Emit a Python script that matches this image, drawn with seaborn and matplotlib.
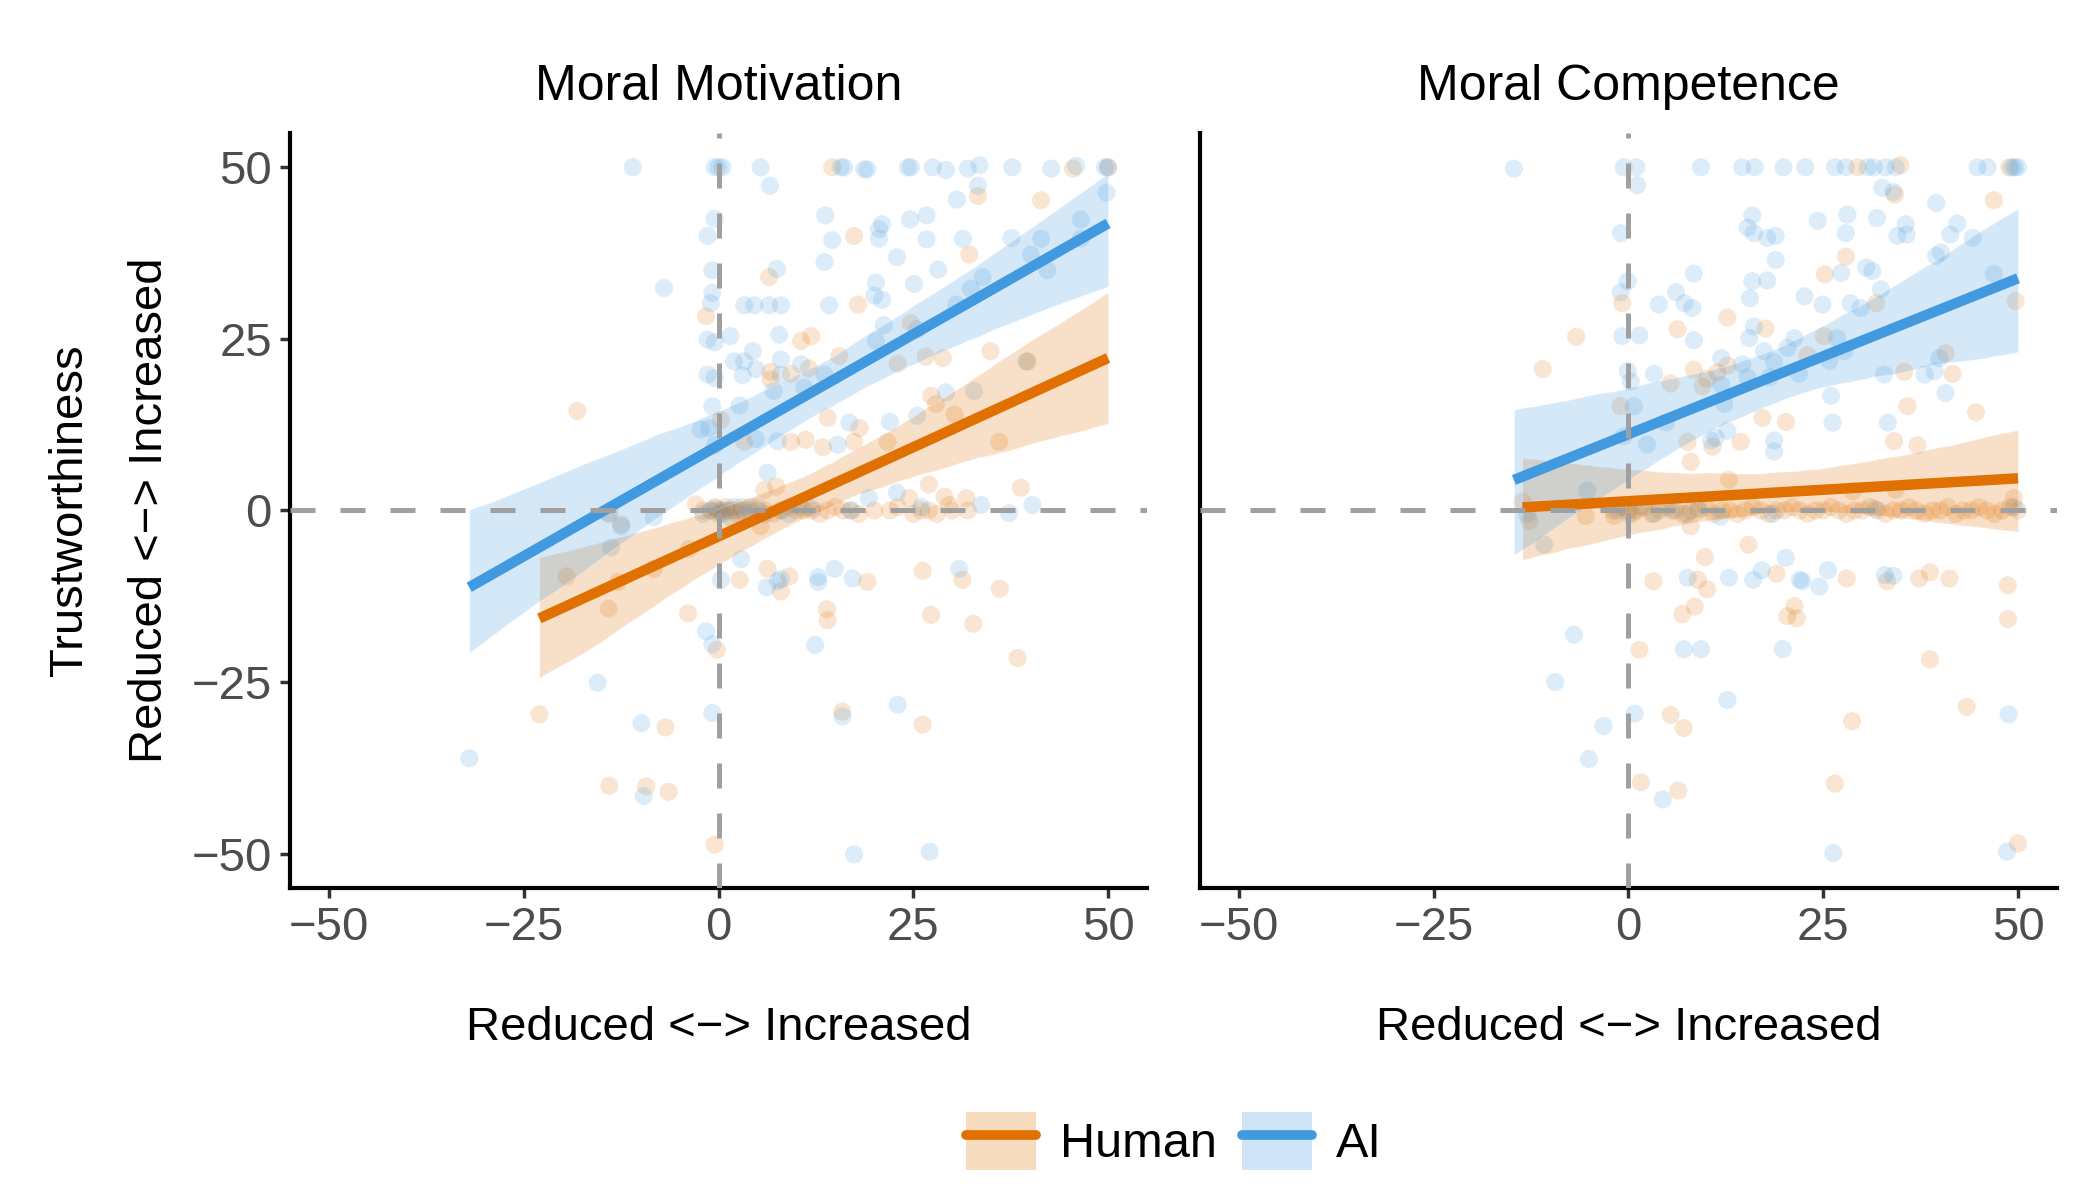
import numpy as np
import pandas as pd
import matplotlib
matplotlib.use("Agg")
import matplotlib.pyplot as plt
from matplotlib.patches import Patch
from matplotlib.lines import Line2D
import seaborn as sns

# ---- data (x = change, y = trustworthiness change) ----
# Moral Motivation panel
mm_human = [
    (-18.1, 14.5), (-1.6, 28.3), (0.3, 13.2), (-2.9, 0.9),
    (14.6, 50), (45.5, 49.8), (50, 50), (33.3, 45.8), (41.4, 45.2), (17.4, 40),
    (32.2, 37.3), (6.5, 34), (17.9, 30), (10.6, 24.7), (11.9, 25.4), (15.5, 22.5),
    (24.7, 27.3), (34.9, 23.2), (6.7, 20.2), (6.7, 19.1), (9.3, 19.9), (11.6, 20.7),
    (23, 21.4), (26.6, 22.4), (28.8, 22.2), (39.7, 21.7), (27.3, 16.7), (27.9, 15.5),
    (30.3, 14), (14, 13.5), (18.1, 12), (21.7, 10), (36, 10), (9.3, 10), (11.2, 10.3),
    (13.4, 9.2), (17.4, 10), (3.3, 10), (27, 3.8), (38.8, 3.3), (31.8, 1.8), (29, 2),
    (29.6, 0.8), (24.5, 1.8), (5.9, 3), (7.4, 3.5),
    (-2, 0), (-1, 0), (-0.5, 0.5), (0, 0), (0, -0.5), (0.5, 0), (1, 0.5), (1.5, 0),
    (2, 0), (2.5, -0.5), (3, 0), (4, 0.5), (5, 0), (6, 0), (7, -0.5), (8, 0), (9, 0.5),
    (10, 0), (11, 0), (12, 0), (13, -0.5), (14, 0), (15, 0.5), (16, 0), (17, 0),
    (18, -0.5), (20, 0), (22, 0), (23, 0.5), (25, -0.5), (26, 0), (27, 0), (28, -0.5),
    (30, 0), (32, 0),
    (5.4, -2.3), (6.3, -8.5), (2.7, -10.1), (9.1, -9.6), (8, -11.8), (19.1, -10.4),
    (26.2, -8.8), (31.3, -10.1), (36.1, -11.4), (13.9, -14.4), (14, -16), (27.3, -15.2),
    (32.7, -16.5), (38.4, -21.5), (-0.2, -20.3), (15.9, -29.3), (26.2, -31.2), (-0.5, -48.7),
    (-19.5, -9.6), (-12.9, -10.4), (-8.3, -8.5), (-3.8, -5.6), (-14.1, -14.3), (-3.9, -15),
    (-23, -29.7), (-6.8, -31.6), (-14, -40.1), (-9.3, -40.2), (-6.4, -41), (-14, -0.5),
    (-12.5, -2),
]
mm_ai = [
    (-11, 50), (-7, 32.4),
    (-0.5, 50), (0, 50), (0.5, 50), (-0.5, 42.5), (-1.4, 40), (-0.8, 35), (-0.8, 31.7),
    (-1, 30.2), (-1.4, 24.9), (-0.5, 24.5), (-1.4, 19.8), (-0.5, 19.3), (-0.8, 15.2),
    (-1.2, 12), (-0.5, 9.5),
    (5.4, 50), (6.6, 47.3), (15.7, 50), (16.1, 50), (18.7, 49.7),
    (19.1, 49.7), (24.3, 50), (24.7, 50), (27.5, 50), (29.2, 49.6), (32, 49.8), (33.5, 50.3),
    (37.7, 50), (42.7, 49.8), (45.9, 50.2), (49.6, 50), (50, 50), (49.8, 46.3), (33.3, 47.3),
    (30.6, 45.3), (13.7, 43), (21, 41.7), (20.6, 41), (20.6, 39.6), (24.6, 42.4), (26.7, 43),
    (26.7, 39.5), (14.6, 39.4), (31.4, 39.6), (37.6, 39.7), (41.4, 39.6), (46.5, 42.4),
    (46.5, 39.6), (40.1, 37.3), (42.2, 35), (13.6, 36.2), (22.9, 36.9), (7.5, 35.2),
    (28.2, 35.1), (20.2, 33.2), (25.1, 33), (32.4, 32.3), (33.9, 34), (20, 31.3), (21, 30.7),
    (3.3, 29.9), (4.6, 29.9), (6.5, 29.9), (8, 29.9), (14.2, 29.9), (30.5, 30), (21.2, 27),
    (7.8, 25.6), (1.5, 25.4), (25.5, 26.4), (20.2, 24.7), (4.4, 23.2), (2, 21.7), (3.3, 21.7),
    (8, 22), (4.8, 20.6), (3.1, 19.7), (8, 19.8), (10.6, 21.3), (13.6, 19.8), (7.1, 17.4),
    (11, 17.9), (29.2, 17.2), (39.5, 21.7), (32.8, 17.4), (2.7, 15.3), (16.8, 12.8),
    (22, 12.9), (25.5, 13.8), (7.6, 10.1), (4.8, 10.4), (15.3, 9.6), (-2.3, 11.8), (6.3, 5.5),
    (19.3, 1.8), (22.9, 2.6), (33.7, 0.8), (40.3, 0.8), (37.3, -0.4),
    (1, 0), (3, 0.5), (8, 0), (12, 0.3), (17, 0), (26, 0.5),
    (-1, 0), (0.5, -0.5), (2, 0.5), (4, 0), (6, -0.5),
    (-2, -0.5), (-0.3, 0.3), (1.5, -1), (3.5, -0.5), (5, 0.5), (9, -0.5), (10.5, 0.5),
    (0.3, -10.1), (6.2, -11.2), (7.6, -10.3), (8, -10), (12.8, -9.7), (12.8, -10.4),
    (14.9, -8.5), (17.2, -9.9), (30.9, -8.5), (-1.6, -17.6), (-0.8, -19.5), (12.4, -19.6),
    (-0.8, -29.5), (23, -28.3), (15.9, -30), (17.4, -50.1), (27.1, -49.7), (2.9, -7.1),
    (-13.8, -5.4), (-15.5, -25.1), (-9.9, -31), (-9.6, -41.6), (-32, -36.1), (-14.2, -0.4),
    (-12.5, -2.3), (-8.3, -1),
]

# Moral Competence panel
mc_human = [
    (-6.7, 25.3), (-11, 20.6), (-13.6, 1.3), (-12.7, -1.5),
    (-5.5, -0.8), (-1.8, -0.8),
    (29.4, 50), (34.9, 50.3), (48.9, 50), (46.9, 45.2), (34.2, 46),
    (-0.8, 30.2), (6.3, 26.4), (12.7, 28.1), (27.9, 37), (25.2, 34.4), (31.8, 30.2),
    (17.6, 26.5), (25.1, 25.4), (23, 22.6), (40.7, 22.9), (49.7, 30.5), (8.4, 20.5),
    (9.5, 18.1), (10.1, 19.2), (11.4, 20.1), (12.7, 21.1), (5.4, 18.5), (-1, 15.2),
    (35.4, 20.2), (41.6, 19.9), (35.8, 15.2), (44.6, 14.3), (17.2, 13.5), (20.2, 12.9),
    (34.1, 10.1), (37.1, 9.5), (7.6, 10), (8, 7.1), (10.8, 9.3), (14.4, 10), (12.9, 4.5),
    (28.8, 2.8), (34.3, 3), (49.5, 1.8),
    (8, -2.3), (15.4, -5), (9.8, -6.8), (3.2, -10.3), (8.9, -10.1), (10.1, -11.5), (19, -9.2),
    (6.9, -15.1), (8.5, -14), (21.3, -13.9), (20.4, -15.4), (21.6, -15.7), (28, -9.9),
    (33.2, -10.3), (37.3, -9.9), (38.7, -9), (41.2, -9.9), (48.7, -10.9), (48.7, -15.8),
    (1.4, -20.3), (38.7, -21.7), (43.4, -28.6), (5.4, -29.8), (7.1, -31.7), (28.7, -30.7),
    (1.6, -39.6), (6.4, -40.8), (26.5, -39.8), (50, -48.5),
    (-2, 0), (-1, 0.5), (0, 0), (0.5, -0.5), (1, 0), (2, 0.5), (3, -0.5), (4, 0), (5, 0.5),
    (6, 0), (7, -0.5), (8, 0), (9, 0), (10, 0.5), (11, -0.5), (12, 0), (13, 0), (14, -0.5),
    (15, 0), (16, 0.5), (17, 0), (18, -0.5), (19, 0), (20, 0), (21, 0.5), (22, 0), (23, -0.5),
    (24, 0), (25, 0), (26, 0.5), (27, 0), (28, -0.5), (29, 0), (30, 0), (31, 0.5), (32, 0),
    (33, -0.5), (34, 0), (35, 0), (36, 0.5), (37, 0), (38, -0.5), (39, 0), (40, 0), (41, 0.5),
    (42, -0.5), (43, 0), (44, 0), (45, 0.5), (46, 0), (47, -0.5), (48, 0), (49, 0.5), (50, 0),
]
mc_ai = [
    (-14.7, 49.8), (-5.3, 2.9),
    (-10.8, -5), (-7, -18.1), (-9.4, -25), (-3.2, -31.4), (-5.1, -36.2),
    (-0.6, 50), (1.0, 50), (9.3, 50), (14.6, 50), (16.2, 50), (19.9, 50), (22.7, 50),
    (26.5, 50), (27.9, 50), (30.7, 50), (31.5, 50), (33, 50), (34.3, 50), (44.8, 50),
    (46.1, 50), (49.2, 50), (49.6, 50), (50, 50),
    (1.1, 47.4), (32.6, 47), (34, 46.4), (39.5, 44.8), (15.9, 43), (15.3, 41.2), (16.1, 40.4),
    (17.8, 39.7), (18.9, 40), (24.3, 42.2), (28.1, 43.1), (27.9, 40.4), (31.9, 42.6),
    (35.6, 41.7), (34.5, 40), (35.7, 40.2), (42.2, 41.8), (41.3, 40.2), (44.2, 39.7),
    (-1, 40.4), (18.9, 36.5), (8.4, 34.5), (-0.1, 33.4), (-1, 31.8), (6.1, 31.8), (7.2, 30.2),
    (8.2, 29.5), (3.9, 30), (15.9, 33.4), (17.8, 33.5), (15.6, 30.9), (22.6, 31.2), (24.9, 30),
    (27.3, 34.6), (30.5, 35.4), (31.3, 34.9), (32.4, 32.2), (28.5, 30.2), (29.8, 29.5),
    (39.5, 37.1), (40.1, 37.6), (46.9, 34.5), (-0.8, 25.4), (1.4, 25.5), (8.4, 24.8),
    (16.1, 26.8), (15.5, 25.1), (21.3, 25.1), (20.4, 23.7), (17.4, 23.2), (26.8, 25.1),
    (27.7, 23.2), (11.9, 22.2), (14.6, 21.3), (15.3, 19.4), (18.1, 19.4), (18.7, 21.6),
    (-0.1, 20.3), (3.3, 19.9), (0.3, 18.8), (11.9, 18.3), (25.8, 21.8), (21.9, 19.9),
    (32.8, 19.8), (38, 19.8), (39.3, 20.3), (39.9, 22.2), (40.7, 17.1), (26, 16.7),
    (0.7, 15.2), (12.3, 15.5), (4.8, 12.8), (12.7, 11.6), (26.2, 12.8), (33.3, 12.8),
    (18.7, 10.2), (18.7, 8.6), (10.6, 10.2), (11.2, 10.6), (2.4, 9.6), (-0.6, 10.8),
    (7.6, -9.8), (12.9, -9.8), (16, -10.1), (17.1, -8.7), (20.2, -6.9), (22, -10.1),
    (22.3, -10.3), (24.5, -11.1), (25.6, -8.7), (32.9, -9.4), (34, -9.5), (7.1, -20.2),
    (9.3, -20.2), (19.8, -20.2), (12.7, -27.6), (0.8, -29.6), (4.4, -42.1), (26.3, -49.9),
    (48.6, -49.7), (48.8, -29.7), (31.7, 0.2),
    (3.3, -0.5), (11.8, -0.9), (18.5, -0.5), (49.5, 0.5),
    (-1.5, 0), (0, -0.5), (1.5, 0.5), (5.5, 0), (7.5, -0.5), (9, 0.3), (-13, -0.5),
]

panels = ["Moral Motivation", "Moral Competence"]
groups = ["Human", "AI"]
colors = {"Human": "#E07000", "AI": "#4199E0"}
axis_label = "Reduced <\u2212> Increased"
ticks = [-50, -25, 0, 25, 50]


def to_frame(points, panel, group):
    df = pd.DataFrame(points, columns=["x", "y"])
    df["panel"] = panel
    df["group"] = group
    return df


data = pd.concat([
    to_frame(mm_human, panels[0], "Human"),
    to_frame(mm_ai, panels[0], "AI"),
    to_frame(mc_human, panels[1], "Human"),
    to_frame(mc_ai, panels[1], "AI"),
], ignore_index=True)

sns.set_style("ticks")
plt.rcParams["font.family"] = ["Liberation Sans", "DejaVu Sans"]

fig = plt.figure(figsize=(21, 12), dpi=100)
ax1 = fig.add_axes([0.1381, 0.26, 0.4081, 0.6292])
ax2 = fig.add_axes([0.5714, 0.26, 0.4081, 0.6292])

for ax, panel in zip([ax1, ax2], panels):
    sub = data[data["panel"] == panel]
    sns.scatterplot(data=sub, x="x", y="y", hue="group", palette=colors,
                    hue_order=groups, s=170, alpha=0.18, linewidth=0,
                    legend=False, ax=ax, zorder=1)
    for g in groups:
        gd = sub[sub["group"] == g]
        n_before = len(ax.collections)
        sns.regplot(data=gd, x="x", y="y", ax=ax, scatter=False, color=colors[g],
                    ci=95, n_boot=1000, seed=3, truncate=True,
                    line_kws=dict(lw=7.5, solid_capstyle="butt", zorder=3))
        for coll in ax.collections[n_before:]:
            coll.set_alpha(0.22)
            coll.set_zorder(2)

    ax.axhline(0, color="#A0A0A0", lw=3.6, dashes=(5, 5), zorder=5)
    ax.axvline(0, color="#A0A0A0", lw=3.6, dashes=(5, 5), zorder=5)

    ax.set_xlim(-55, 55)
    ax.set_ylim(-55, 55)
    ax.set_xticks(ticks)
    ax.set_xticklabels([f"{t}".replace("-", "\u2212") for t in ticks])
    ax.set_title(panel, fontsize=36, pad=24, color="black")
    ax.set_xlabel(axis_label, fontsize=34, labelpad=40, color="black")
    sns.despine(ax=ax)
    for side in ["left", "bottom"]:
        ax.spines[side].set_linewidth(3)
        ax.spines[side].set_color("black")
    ax.tick_params(axis="both", labelsize=34, labelcolor="#4D4D4D", color="#333333",
                   length=7, width=2.5, pad=6)

ax1.set_yticks(ticks)
ax1.set_yticklabels([f"{t}".replace("-", "\u2212") for t in ticks])
ax1.set_ylabel("Trustworthiness\n" + axis_label, fontsize=34, linespacing=2.05,
               labelpad=14, color="black")
ax2.set_yticks([])
ax2.set_ylabel("")

handles = [
    (Patch(facecolor=colors[g], alpha=0.25, edgecolor="none"),
     Line2D([], [], color=colors[g], lw=7))
    for g in groups
]
leg = fig.legend(handles, groups, loc="center", bbox_to_anchor=(0.559, 0.049), ncol=2,
                 frameon=False, fontsize=35, handlelength=1.45, handleheight=1.45,
                 handletextpad=0.5, columnspacing=0.5)
for t in leg.get_texts():
    t.set_color("black")

fig.savefig("out.png", dpi=100)
